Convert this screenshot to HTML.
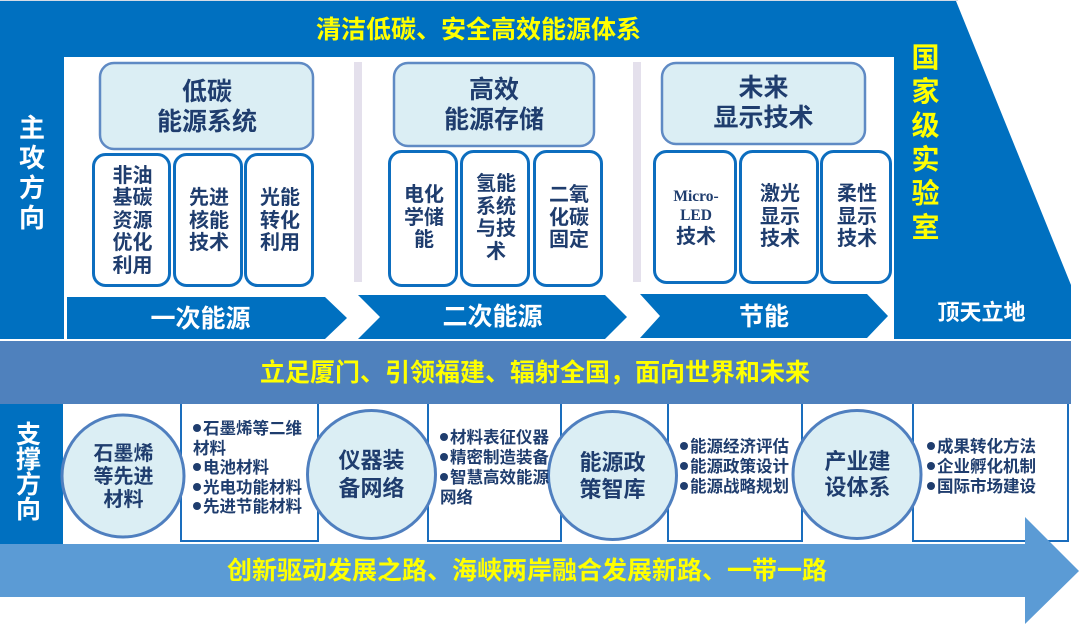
<!DOCTYPE html>
<html><head><meta charset="utf-8">
<style>
html,body{margin:0;padding:0;background:#fff;}
body{width:1080px;height:625px;overflow:hidden;position:relative;font-family:"Liberation Sans","Noto Sans CJK SC",sans-serif;font-weight:bold;}
svg{position:absolute;left:0;top:0;}
.t{position:absolute;display:flex;align-items:center;justify-content:center;text-align:center;white-space:nowrap;}
.y{color:#ffff00;}
.w{color:#fff;}
.n{color:#1f3d6e;}
.sb{font-size:20px;line-height:22.5px;color:#1f3d6e;}
.list{position:absolute;font-size:16.5px;line-height:20px;color:#1f3d6e;white-space:nowrap;text-align:left;}
.b{display:inline-block;width:8px;height:8px;border-radius:50%;background:#1f3d6e;margin-right:2px;vertical-align:2px;}
</style></head><body>
<svg width="1080" height="625" viewBox="0 0 1080 625">
<rect x="0" y="0" width="1080" height="625" fill="#fff"/>
<rect x="0" y="0" width="958" height="1" fill="#d4dbe6"/>
<polygon points="0,1 956,1 1071,285 1071,339 0,339" fill="#0070c0"/>
<rect x="64" y="57" width="830" height="282" fill="#fff"/>
<rect x="354" y="62" width="8" height="220" fill="#e4e0ec"/>
<rect x="633" y="62" width="8" height="220" fill="#e4e0ec"/>
<!-- heading boxes -->
<rect x="100" y="63" width="213" height="86" rx="14" fill="#dbeef4" stroke="#5f8ac4" stroke-width="2.5"/>
<rect x="394" y="63" width="200" height="83" rx="14" fill="#dbeef4" stroke="#5f8ac4" stroke-width="2.5"/>
<rect x="662" y="63" width="203" height="81" rx="14" fill="#dbeef4" stroke="#5f8ac4" stroke-width="2.5"/>
<!-- small boxes -->
<g fill="#fff" stroke="#0d6ebf" stroke-width="3">
<rect x="93.5" y="154.5" width="76" height="131" rx="12"/>
<rect x="174.5" y="154.5" width="67" height="131" rx="12"/>
<rect x="245.5" y="154.5" width="67" height="131" rx="12"/>
<rect x="389.5" y="151.5" width="67" height="134" rx="12"/>
<rect x="461.5" y="151.5" width="67" height="134" rx="12"/>
<rect x="534.5" y="151.5" width="67" height="134" rx="12"/>
<rect x="654.5" y="151.5" width="81" height="131" rx="12"/>
<rect x="740.5" y="151.5" width="77" height="131" rx="12"/>
<rect x="821.5" y="151.5" width="69" height="131" rx="12"/>
</g>
<!-- arrows -->
<polygon points="67,297 325,297 347,318 325,339 67,339" fill="#0070c0"/>
<polygon points="358,295 605,295 627,317 605,339 358,339 380,317" fill="#0070c0"/>
<polygon points="640,294 867,294 888,316 867,338 640,338 660,316" fill="#0070c0"/>
<!-- lower boxes -->
<g fill="#fff" stroke="#1a6dbd" stroke-width="2">
<rect x="181" y="398" width="137" height="143"/>
<rect x="428" y="398" width="133" height="143"/>
<rect x="668" y="398" width="134" height="143"/>
<rect x="913" y="398" width="155" height="143"/>
</g>
<rect x="0" y="341" width="1071" height="63" fill="#4f81bd"/>
<rect x="0" y="404" width="63" height="140" fill="#0070c0"/>
<!-- circles -->
<g fill="#dbeef4" stroke="#4f7fbf" stroke-width="3">
<circle cx="123" cy="476" r="61"/>
<circle cx="371.5" cy="474.5" r="64"/>
<circle cx="612.5" cy="475.5" r="64"/>
<circle cx="857" cy="474.5" r="64"/>
</g>
<rect x="0" y="544" width="1026" height="53" fill="#5b9bd5"/>
<polygon points="1025,517 1079,571 1025,624" fill="#5b9bd5"/>
</svg>

<!-- top title -->
<div class="t y" style="left:278px;top:15px;width:401px;height:30px;font-size:25px;line-height:30px;">清洁低碳、安全高效能源体系</div>
<!-- 主攻方向 -->
<div class="t w" style="left:0;top:112px;width:64px;height:121px;font-size:26px;line-height:30px;">主<br>攻<br>方<br>向</div>
<!-- 国家级实验室 -->
<div class="t y" style="left:895px;top:41px;width:61px;height:204px;font-size:28px;line-height:34px;">国<br>家<br>级<br>实<br>验<br>室</div>

<!-- headings -->
<div class="t n" style="left:99px;top:77px;width:216px;height:60px;font-size:25px;line-height:30px;">低碳<br>能源系统</div>
<div class="t n" style="left:393px;top:75px;width:202px;height:60px;font-size:25px;line-height:30px;">高效<br>能源存储</div>
<div class="t n" style="left:661px;top:73px;width:205px;height:60px;font-size:25px;line-height:30px;">未来<br>显示技术</div>

<!-- small boxes col1 -->
<div class="t sb" style="left:93px;top:154px;width:79px;height:134px;">非油<br>基碳<br>资源<br>优化<br>利用</div>
<div class="t sb" style="left:174px;top:154px;width:70px;height:134px;">先进<br>核能<br>技术</div>
<div class="t sb" style="left:245px;top:154px;width:70px;height:134px;">光能<br>转化<br>利用</div>
<!-- col2 -->
<div class="t sb" style="left:389px;top:150px;width:70px;height:136px;">电化<br>学储<br>能</div>
<div class="t sb" style="left:461px;top:150px;width:70px;height:136px;">氢能<br>系统<br>与技<br>术</div>
<div class="t sb" style="left:534px;top:150px;width:70px;height:136px;">二氧<br>化碳<br>固定</div>
<!-- col3 -->
<div class="t n" style="left:654px;top:187px;width:84px;height:20px;font-family:'Liberation Serif',serif;font-size:15.5px;line-height:20px;">Micro-</div>
<div class="t n" style="left:654px;top:206px;width:84px;height:20px;font-family:'Liberation Serif',serif;font-size:15.5px;line-height:20px;">LED</div>
<div class="t n" style="left:654px;top:226px;width:84px;height:23px;font-size:20px;line-height:23px;">技术</div>
<div class="t sb" style="left:740px;top:150px;width:80px;height:134px;">激光<br>显示<br>技术</div>
<div class="t sb" style="left:821px;top:150px;width:72px;height:134px;">柔性<br>显示<br>技术</div>

<!-- arrow labels -->
<div class="t w" style="left:140px;top:304px;width:121px;height:30px;font-size:25px;line-height:30px;">一次能源</div>
<div class="t w" style="left:432px;top:302px;width:121px;height:30px;font-size:25px;line-height:30px;">二次能源</div>
<div class="t w" style="left:714px;top:302px;width:100px;height:30px;font-size:25px;line-height:30px;">节能</div>
<div class="t w" style="left:921px;top:298px;width:121px;height:30px;font-size:22px;line-height:30px;">顶天立地</div>

<!-- band -->
<div class="t y" style="left:235px;top:358px;width:600px;height:30px;font-size:25px;line-height:30px;">立足厦门、引领福建、辐射全国，面向世界和未来</div>

<!-- 支撑方向 -->
<div class="t w" style="left:0;top:422px;width:57px;height:101px;font-size:25px;line-height:25px;">支<br>撑<br>方<br>向</div>

<!-- circles text -->
<div class="t n" style="left:70px;top:442px;width:107px;height:70px;font-size:20px;line-height:23px;">石墨烯<br>等先进<br>材料</div>
<div class="t n" style="left:311px;top:447px;width:121px;height:56px;font-size:22px;line-height:28px;">仪器装<br>备网络</div>
<div class="t n" style="left:552px;top:449px;width:121px;height:54px;font-size:22px;line-height:27px;">能源政<br>策智库</div>
<div class="t n" style="left:797px;top:449px;width:121px;height:52px;font-size:22px;line-height:26px;">产业建<br>设体系</div>

<!-- lists -->
<div class="list" style="left:193px;top:420px;line-height:19.5px;"><i class="b"></i>石墨烯等二维<br>材料<br><i class="b"></i>电池材料<br><i class="b"></i>光电功能材料<br><i class="b"></i>先进节能材料</div>
<div class="list" style="left:440px;top:428px;"><i class="b"></i>材料表征仪器<br><i class="b"></i>精密制造装备<br><i class="b"></i>智慧高效能源<br>网络</div>
<div class="list" style="left:680px;top:437px;"><i class="b"></i>能源经济评估<br><i class="b"></i>能源政策设计<br><i class="b"></i>能源战略规划</div>
<div class="list" style="left:927px;top:437px;"><i class="b"></i>成果转化方法<br><i class="b"></i>企业孵化机制<br><i class="b"></i>国际市场建设</div>

<!-- bottom -->
<div class="t y" style="left:202px;top:556px;width:650px;height:30px;font-size:25px;line-height:30px;">创新驱动发展之路、海峡两岸融合发展新路、一带一路</div>
</body></html>
